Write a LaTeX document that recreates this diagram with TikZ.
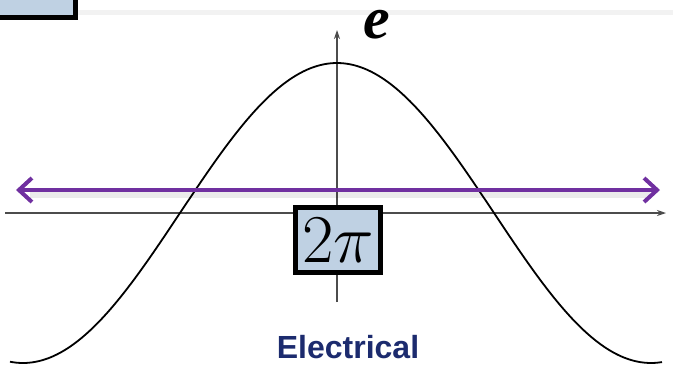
\documentclass[tikz,border=0pt]{standalone}
\usepackage{fontspec}
\newfontfamily\labelfont{Liberation Sans}
\newfontfamily\symbolfont{Liberation Serif}
\usetikzlibrary{arrows.meta, positioning}
\definecolor{boxblue}{HTML}{BFD1E3}
\definecolor{wavepurple}{HTML}{7030A0}
\definecolor{labelnavy}{HTML}{1C2B6E}
\tikzset{
  valuebox/.style={draw=black, line width=5pt, fill=boxblue, inner sep=6pt},
  axisline/.style={draw=black!70, line width=1.1pt, -{Stealth[length=9pt,width=6pt]}},
  periodarrow/.style={wavepurple, line width=4pt,
    {Straight Barb[length=13pt,width=24pt,line width=4pt]}-{Straight Barb[length=13pt,width=24pt,line width=4pt]}},
}

\begin{document}
\begin{tikzpicture}[x=1pt, y=-1pt, every node/.style={font=\Huge}]
    \useasboundingbox (0,0) rectangle (673,368);
    \begin{scope}
      \clip (0,0) rectangle (673,368);
      % header strip and corner box
      \fill[black!5] (78,10) rectangle (673,15);
      \draw[valuebox] (-40,-30) rectangle (75,17);
    \end{scope}

    % axes
    \coordinate (xstart) at (5,213);
    \coordinate (xend) at (666,213);
    \coordinate (ystart) at (337,302);
    \coordinate (yend) at (337,30);
    \draw[axisline] (xstart) -- (xend);
    \draw[axisline] (ystart) -- (yend);

    % wave
    \draw[line width=1.8pt, smooth, samples=120, domain=10:662]
      plot ({\x},{213-150*cos(0.5732*(\x-337))});

    % period arrow with shadow
    \coordinate (pleft) at (16,190);
    \coordinate (pright) at (660,190);
    \draw[black, opacity=0.08, line width=6pt] ([shift={(14,5)}]pleft) -- ([shift={(-10,5)}]pright);
    \draw[periodarrow] (pleft) -- (pright);

    \node[valuebox, inner sep=0pt, minimum width=85pt, minimum height=65pt] (period) at (338,240) {\scalebox{2.75}{$2\pi$}};
    \node[font=\symbolfont\bfseries\itshape\fontsize{60}{60}\selectfont, inner sep=0pt,
          text height=28pt, text depth=0pt, anchor=base] (emf) at (377,38) {e};
    \node[font=\labelfont\bfseries\fontsize{32}{34}\selectfont, text=labelnavy] (caption) at (348,347) {Electrical};
\end{tikzpicture}
\end{document}
